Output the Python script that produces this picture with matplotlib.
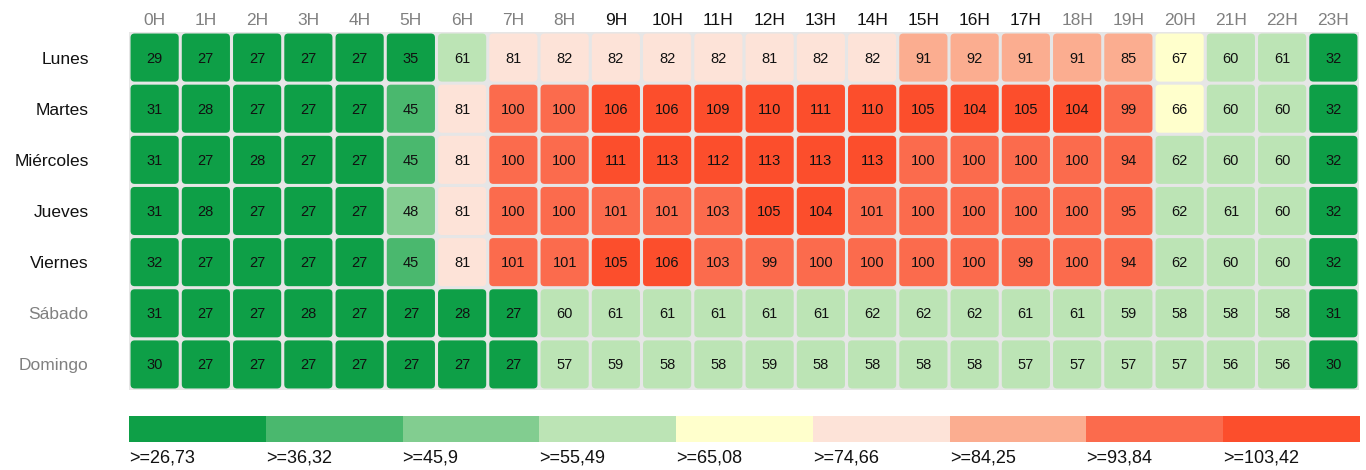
import matplotlib.pyplot as plt
from matplotlib.patches import FancyBboxPatch, Rectangle

plt.rcParams['font.family'] = ['Liberation Sans', 'DejaVu Sans']

hours = ['%dH' % h for h in range(24)]
days = ['Lunes', 'Martes', 'Miércoles', 'Jueves', 'Viernes', 'Sábado', 'Domingo']

lunes = [29, 27, 27, 27, 27, 35, 61, 81, 82, 82, 82, 82, 81, 82, 82, 91, 92, 91, 91, 85, 67, 60, 61, 32]
martes = [31, 28, 27, 27, 27, 45, 81, 100, 100, 106, 106, 109, 110, 111, 110, 105, 104, 105, 104, 99, 66, 60, 60, 32]
miercoles = [31, 27, 28, 27, 27, 45, 81, 100, 100, 111, 113, 112, 113, 113, 113, 100, 100, 100, 100, 94, 62, 60, 60, 32]
jueves = [31, 28, 27, 27, 27, 48, 81, 100, 100, 101, 101, 103, 105, 104, 101, 100, 100, 100, 100, 95, 62, 61, 60, 32]
viernes = [32, 27, 27, 27, 27, 45, 81, 101, 101, 105, 106, 103, 99, 100, 100, 100, 100, 99, 100, 94, 62, 60, 60, 32]
sabado = [31, 27, 27, 28, 27, 27, 28, 27, 60, 61, 61, 61, 61, 61, 62, 62, 62, 61, 61, 59, 58, 58, 58, 31]
domingo = [30, 27, 27, 27, 27, 27, 27, 27, 57, 59, 58, 58, 59, 58, 58, 58, 58, 57, 57, 57, 57, 56, 56, 30]
values = [lunes, martes, miercoles, jueves, viernes, sabado, domingo]

thresholds = [26.73, 36.32, 45.9, 55.49, 65.08, 74.66, 84.25, 93.84, 103.42]
bin_labels = ['>=26,73', '>=36,32', '>=45,9', '>=55,49', '>=65,08', '>=74,66', '>=84,25', '>=93,84', '>=103,42']
bin_colors = ['#0e9f47', '#4ab86e', '#82cd90', '#bce4b5', '#ffffcc',
              '#fde3d8', '#fbad90', '#fb6b4d', '#fc4e2c']

dark_hours = range(9, 18)
dark_days = range(0, 5)


def color_for(v):
    c = bin_colors[0]
    for t, col in zip(thresholds, bin_colors):
        if v >= t:
            c = col
    return c


W, H = 1366, 470
fig = plt.figure(figsize=(W / 100, H / 100), dpi=100)

# heatmap
ax = fig.add_axes([129 / W, 1 - 390 / H, 1230 / W, 358 / H])
ax.set_xlim(0, 24)
ax.set_ylim(7, 0)
ax.add_patch(Rectangle((0, 0), 24, 7, facecolor='#e6e6e6', edgecolor='none'))
gap = 0.03
for r in range(7):
    for c in range(24):
        v = values[r][c]
        ax.add_patch(FancyBboxPatch((c + gap, r + gap), 1 - 2 * gap, 1 - 2 * gap,
                                    boxstyle='round,pad=0,rounding_size=0.08',
                                    facecolor=color_for(v), edgecolor='none'))
        ax.text(c + 0.5, r + 0.52, str(v), ha='center', va='center',
                fontsize=10.5, color='#111111')

ax.set_xticks([i + 0.5 for i in range(24)])
ax.set_xticklabels(hours, fontsize=12.5)
ax.xaxis.tick_top()
ax.set_yticks([i + 0.5 for i in range(7)])
ax.set_yticklabels(days, fontsize=12.5)
ax.tick_params(length=0)
ax.tick_params(axis='x', pad=3)
ax.tick_params(axis='y', pad=29)
for lbl in ax.get_yticklabels():
    lbl.set_horizontalalignment('right')
for i, lbl in enumerate(ax.get_xticklabels()):
    lbl.set_color('#111111' if i in dark_hours else '#808080')
for i, lbl in enumerate(ax.get_yticklabels()):
    lbl.set_color('#111111' if i in dark_days else '#808080')
for s in ax.spines.values():
    s.set_visible(False)

# legend bar
lax = fig.add_axes([129 / W, 1 - 442 / H, 1231 / W, 26 / H])
lax.set_xlim(0, len(bin_colors))
lax.set_ylim(0, 1)
for i, col in enumerate(bin_colors):
    lax.add_patch(Rectangle((i, 0), 1, 1, facecolor=col, edgecolor='none'))
    lax.text(i, -0.62, bin_labels[i], ha='left', va='center', fontsize=13, color='#111111')
lax.axis('off')

fig.savefig('out.png', dpi=100)
